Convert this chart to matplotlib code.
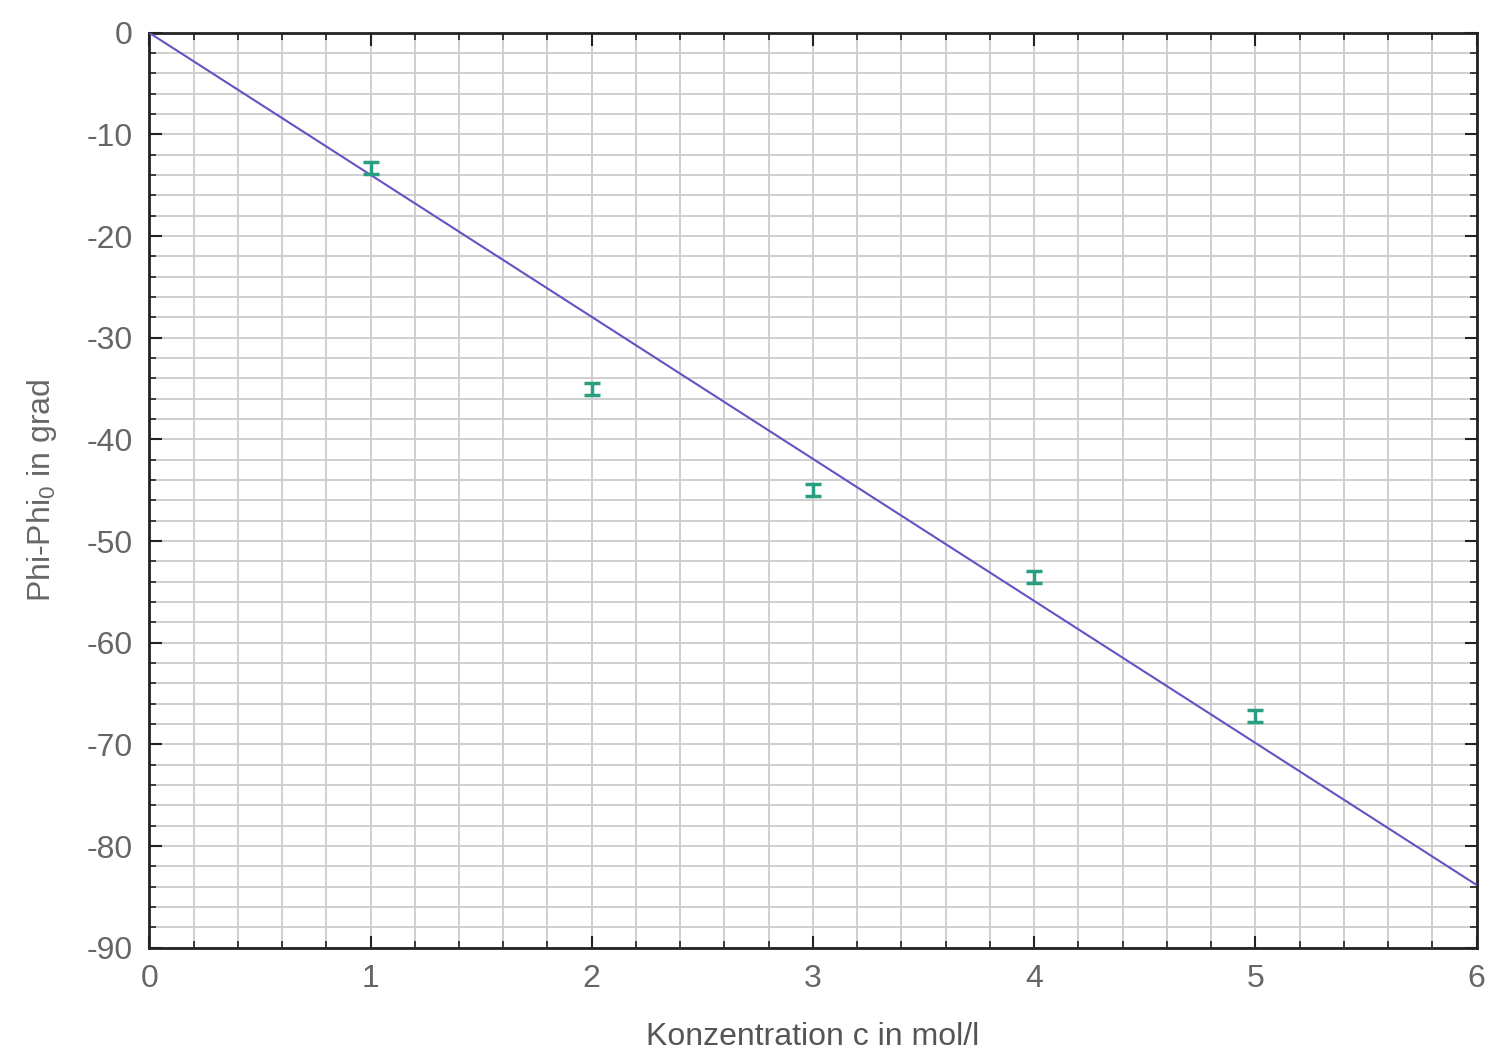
import numpy as np
import matplotlib
matplotlib.use("Agg")
import matplotlib.pyplot as plt
from matplotlib.ticker import MultipleLocator

# Messwerte
konz = np.array([1.0, 2.0, 3.0, 4.0, 5.0])
phi = np.array([-13.3, -35.0, -45.0, -53.5, -67.2])
phi_err = np.array([0.6, 0.6, 0.6, 0.6, 0.6])

# Ausgleichsgerade durch den Ursprung
steigung = np.sum(konz * phi) / np.sum(konz ** 2)
x_fit = np.array([0.0, 6.0])

plt.rcParams['font.family'] = ['Liberation Sans', 'DejaVu Sans']
plt.rcParams['mathtext.fontset'] = 'custom'
plt.rcParams['mathtext.rm'] = 'Liberation Sans'
plt.rcParams['axes.unicode_minus'] = False

fig = plt.figure(figsize=(14.93, 10.59), dpi=100)
ax = fig.add_axes([0.1, 0.105, 0.889, 0.864])

ax.plot(x_fit, steigung * x_fit, color="#6a4fc4", lw=1.5, zorder=3)
ax.errorbar(konz, phi, yerr=phi_err, fmt="none", ecolor="#2a9e80",
            elinewidth=2.5, capsize=6, capthick=2.5, zorder=4)

ax.set_xlim(0, 6)
ax.set_ylim(-90, 0)
ax.xaxis.set_major_locator(MultipleLocator(1))
ax.xaxis.set_minor_locator(MultipleLocator(0.2))
ax.yaxis.set_major_locator(MultipleLocator(10))
ax.yaxis.set_minor_locator(MultipleLocator(2))

ax.grid(True, which="both", color="#cccccc", lw=1.3, zorder=0)
ax.tick_params(which="both", direction="in", top=True, right=True,
               colors="#222222", labelcolor="#666666", labelsize=23)
ax.tick_params(which="major", length=9, width=1.5, pad=12)
ax.tick_params(which="minor", length=5, width=1.2)
for s in ax.spines.values():
    s.set_linewidth(2)
    s.set_color("#222222")

ax.set_xlabel("Konzentration c in mol/l", fontsize=23, color="#555555", labelpad=20)
ax.set_ylabel("Phi-Phi$_0$ in grad", fontsize=23, color="#666666", labelpad=20)

fig.savefig("out.png", dpi=100)
